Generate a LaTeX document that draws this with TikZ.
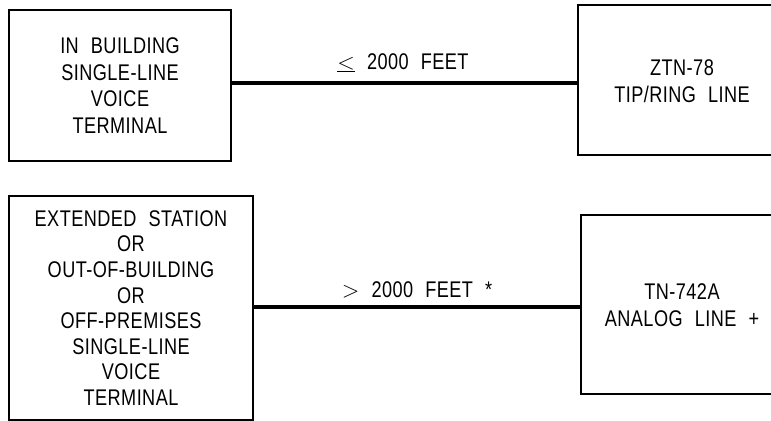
\documentclass[tikz,border=0pt]{standalone}
\usepackage{fontspec}
\setmainfont{Liberation Sans}[FakeStretch=0.8,WordSpace={2.2,0,0},LetterSpace=2]
\begin{document}
\begin{tikzpicture}[x=0.75pt,y=-0.75pt,
  every node/.style={font=\fontsize{17}{20}\selectfont},
  termbox/.style={draw,line width=1.7pt,rectangle,align=center,inner sep=0pt},
  linebox/.style={rectangle,align=center,inner sep=0pt},
  conn/.style={line width=2.4pt},
  lbl/.style={inner sep=0pt,anchor=base}]
\clip (0,0) rectangle (771,421);
\fill[white] (0,0) rectangle (771,421);
% top row
\node[termbox,minimum width=222*0.75pt,minimum height=151*0.75pt] (t1) at (120,85.5)
  {IN BUILDING\\SINGLE-LINE\\VOICE\\TERMINAL};
\node[linebox,minimum width=208*0.75pt,minimum height=150*0.75pt] (l1) at (682,81)
  {ZTN-78\\TIP/RING LINE};
\draw[line width=1.7pt] (771,5) -| (l1.west) |- (771,155);
\draw[conn] (t1.east |- 0,83) -- (l1.west |- 0,83);
\node[lbl] (d1) at (403,69) {\underline{$<$} 2000 FEET};
% bottom row
\node[termbox,minimum width=244*0.75pt,minimum height=224*0.75pt,
  font=\fontsize{17}{19.2}\selectfont] (t2) at (131,308)
  {EXTENDED STATION\\OR\\OUT-OF-BUILDING\\OR\\OFF-PREMISES\\SINGLE-LINE\\VOICE\\TERMINAL};
\node[linebox,minimum width=202*0.75pt,minimum height=179*0.75pt] (l2) at (682,305)
  {TN-742A\\ANALOG LINE +};
\draw[line width=1.7pt] (771,215) -| (l2.west) |- (771,394);
\draw[conn] (t2.east |- 0,307) -- (l2.west |- 0,307);
\node[lbl] (d2) at (417,297) {$>$ 2000 FEET *};
\end{tikzpicture}
\end{document}
